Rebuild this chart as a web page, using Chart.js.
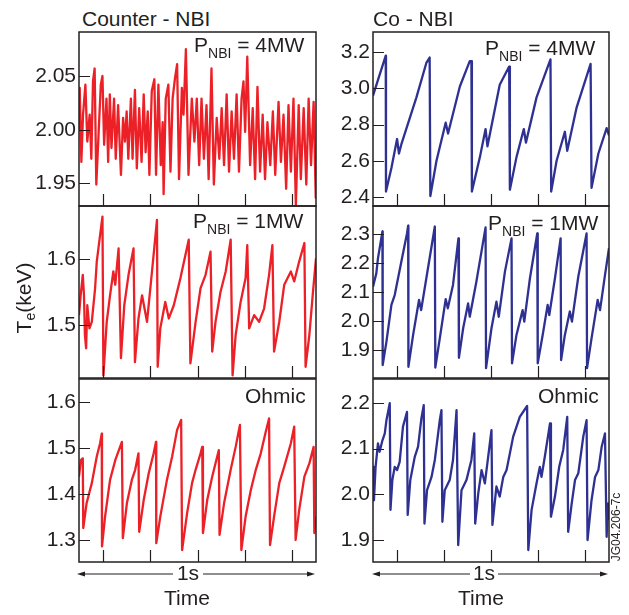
<!DOCTYPE html>
<html lang="en">
<head>
<meta charset="UTF-8">
<title>Te sawteeth</title>
<script src="https://cdn.jsdelivr.net/npm/chart.js"></script>
<style>
  body { margin: 0; background: #fff; }
  #wrap { position: relative; width: 629px; height: 615px; overflow: hidden; }
  canvas { position: absolute; }
  .t { position: absolute; font: 21px "Liberation Sans", Arial, sans-serif; line-height: 21px; color: #231f20; white-space: nowrap; }
  .t sub { font-size: 14px; vertical-align: baseline; position: relative; top: 6px; }
  .c { width: 100px; text-align: center; }
</style>
</head>
<body>
<div id="wrap">
  <canvas id="cTL" width="298" height="176" style="left:20px;top:31px"></canvas>
  <canvas id="cML" width="298" height="174" style="left:20px;top:205px"></canvas>
  <canvas id="cBL" width="298" height="185" style="left:20px;top:378px"></canvas>
  <canvas id="cTR" width="291" height="176" style="left:320px;top:31px"></canvas>
  <canvas id="cMR" width="291" height="174" style="left:320px;top:205px"></canvas>
  <canvas id="cBR" width="291" height="185" style="left:320px;top:378px"></canvas>

  <div class="t" style="left:82px;top:8px">Counter - NBI</div>
  <div class="t" style="left:373px;top:8px">Co - NBI</div>
  <div class="t" style="left:194px;top:34px">P<sub>NBI</sub> = 4MW</div>
  <div class="t" style="left:485px;top:37px">P<sub>NBI</sub> = 4MW</div>
  <div class="t" style="left:193px;top:210px">P<sub>NBI</sub> = 1MW</div>
  <div class="t" style="left:488px;top:212px">P<sub>NBI</sub> = 1MW</div>
  <div class="t" style="left:245px;top:385px">Ohmic</div>
  <div class="t" style="left:538px;top:385px">Ohmic</div>

  <div class="t c" style="left:-25px;top:285px;line-height:24px;transform:rotate(-90deg)">T<sub style="top:4px">e</sub>(keV)</div>

  <svg width="629" height="615" style="position:absolute;left:0;top:0">
    <g stroke="#231f20" stroke-width="1.2">
      <line x1="83" y1="574" x2="173" y2="574"/>
      <line x1="203" y1="574" x2="309" y2="574"/>
      <line x1="378" y1="574" x2="470" y2="574"/>
      <line x1="498" y1="574" x2="602" y2="574"/>
    </g>
    <g fill="#231f20">
      <polygon points="77,574 85,571.5 85,576.5"/>
      <polygon points="315,574 307,571.5 307,576.5"/>
      <polygon points="372,574 380,571.5 380,576.5"/>
      <polygon points="608,574 600,571.5 600,576.5"/>
    </g>
  </svg>
  <div class="t c" style="left:138px;top:562px">1s</div>
  <div class="t c" style="left:137px;top:587px">Time</div>
  <div class="t c" style="left:434px;top:562px">1s</div>
  <div class="t c" style="left:431px;top:587px">Time</div>
  <div class="t c" style="left:566px;top:520px;font-size:12px;line-height:14px;transform:rotate(-90deg)">JG04.206-7c</div>
</div>

<script>
// time axis, fraction of the 1 s window
const timeTicks = [0.1, 0.3, 0.5, 0.7, 0.9];

// Counter-NBI, 4 MW
const cntr4Time = [0, .003, .010, .017, .027, .035, .045, .052, .059, .066, .073, .083, .092, .099, .106, .116, .123, .130, .137, .148,
  .155, .165, .177, .186, .194, .201, .208, .219, .226, .236, .244, .254, .264, .273, .281, .290, .297, .307, .318, .325,
  .335, .345, .353, .357, .366, .377, .386, .395, .405, .414, .422, .434, .441, .451, .462, .476, .487, .497, .507, .517,
  .527, .538, .547, .559, .569, .581, .592, .602, .612, .623, .633, .644, .654, .665, .675, .686, .694, .701, .710, .722,
  .733, .743, .753, .764, .775, .785, .795, .807, .818, .828, .842, .852, .863, .874, .884, .894, .905, .915, .927, .936,
  .948, .959, .969, .979, .990, .999];
const cntr4Te = [2.001, 2.039, 1.970, 2.014, 2.042, 1.989, 2.014, 1.973, 2.045, 2.057, 1.949, 1.998, 2.042, 2.050, 1.986, 2.029, 1.970, 2.033, 1.983, 2.029,
  1.973, 2.023, 1.958, 2.011, 1.989, 2.017, 1.973, 2.029, 1.973, 2.037, 1.964, 2.020, 1.970, 2.033, 1.979, 2.017, 1.958, 2.036, 2.047, 1.958,
  2.042, 1.967, 2.007, 1.940, 2.029, 2.042, 1.961, 2.029, 2.048, 2.061, 1.954, 2.039, 2.014, 2.075, 1.958, 2.029, 1.989, 2.029, 1.967, 2.029,
  1.973, 2.023, 1.954, 2.057, 1.949, 2.011, 1.973, 2.020, 1.967, 2.033, 1.961, 2.017, 1.973, 2.033, 1.961, 2.029, 2.045, 1.998, 2.068, 1.967,
  2.020, 1.954, 2.040, 1.961, 2.014, 1.954, 2.007, 1.967, 2.017, 1.958, 2.026, 1.970, 2.014, 1.945, 2.023, 1.961, 2.029, 1.930, 2.023, 1.954,
  2.020, 1.949, 2.029, 1.967, 2.026, 1.936];
const cntr4Ticks = [1.95, 2.00, 2.05];

// Counter-NBI, 1 MW
const cntr1Time = [0, .007, .016, .021, .025, .030, .035, .044, .054, .068, .075, .089, .099, .103, .117, .131, .145, .153, .167, .177,
  .191, .209, .230, .236, .251, .266, .287, .308, .329, .332, .343, .364, .379, .400, .428, .463, .470, .492, .513, .534,
  .555, .562, .576, .597, .619, .640, .648, .661, .682, .703, .710, .718, .739, .760, .781, .802, .816, .823, .845, .866,
  .894, .908, .929, .951, .956, .972, .986, 1];
const cntr1Te = [1.515, 1.545, 1.576, 1.545, 1.485, 1.465, 1.530, 1.495, 1.505, 1.556, 1.596, 1.636, 1.664, 1.424, 1.505, 1.545, 1.581, 1.561, 1.616, 1.450,
  1.530, 1.576, 1.616, 1.444, 1.510, 1.545, 1.505, 1.581, 1.659, 1.437, 1.495, 1.535, 1.510, 1.530, 1.571, 1.629, 1.442, 1.505, 1.556, 1.576,
  1.611, 1.460, 1.505, 1.550, 1.581, 1.629, 1.424, 1.485, 1.535, 1.571, 1.621, 1.495, 1.515, 1.505, 1.525, 1.576, 1.621, 1.460, 1.505, 1.561,
  1.581, 1.566, 1.596, 1.624, 1.437, 1.485, 1.545, 1.601];
const cntr1Ticks = [1.5, 1.6];

// Counter-NBI, Ohmic
const cntrOhTime = [0, .008, .016, .018, .032, .054, .075, .089, .096, .097, .110, .131, .153, .181, .185, .202, .223, .237, .251, .254,
  .273, .294, .315, .325, .326, .343, .371, .393, .414, .431, .435, .456, .477, .492, .513, .520, .523, .541, .562, .590,
  .593, .612, .640, .661, .679, .685, .703, .725, .746, .767, .788, .802, .806, .823, .845, .866, .894, .908, .914, .929,
  .951, .972, .990, .993, 1];
const cntrOhTe = [1.438, 1.474, 1.478, 1.326, 1.380, 1.424, 1.482, 1.511, 1.532, 1.286, 1.351, 1.431, 1.474, 1.514, 1.304, 1.380, 1.431, 1.453, 1.489, 1.318,
  1.387, 1.445, 1.489, 1.514, 1.293, 1.351, 1.431, 1.482, 1.540, 1.562, 1.278, 1.358, 1.424, 1.453, 1.489, 1.503, 1.315, 1.387, 1.438, 1.496,
  1.311, 1.380, 1.453, 1.503, 1.551, 1.278, 1.351, 1.409, 1.453, 1.489, 1.536, 1.565, 1.289, 1.351, 1.424, 1.460, 1.511, 1.547, 1.300, 1.365,
  1.438, 1.467, 1.503, 1.315, 1.351];
const cntrOhTicks = [1.3, 1.4, 1.5, 1.6];

// Co-NBI, 4 MW
const co4Time = [0, .054, .055, .078, .102, .110, .120, .184, .226, .240, .243, .269, .308, .318, .368, .410, .417, .419, .453, .477,
  .485, .537, .577, .580, .608, .639, .648, .693, .752, .755, .778, .813, .823, .863, .922, .926, .955, .990, 1];
const co4Te = [2.96, 3.18, 2.43, 2.56, 2.72, 2.64, 2.69, 2.95, 3.14, 3.17, 2.405, 2.60, 2.81, 2.75, 3.01, 3.15, 3.15, 2.43, 2.62, 2.775,
  2.68, 3.02, 3.12, 2.44, 2.62, 2.775, 2.70, 2.95, 3.16, 2.43, 2.60, 2.76, 2.655, 2.895, 3.135, 2.45, 2.64, 2.78, 2.74];
const co4Ticks = [2.4, 2.6, 2.8, 3.0, 3.2];

// Co-NBI, 1 MW
const co1Time = [0, .014, .021, .040, .041, .057, .078, .092, .120, .144, .149, .150, .170, .195, .204, .226, .262, .264, .283, .308,
  .317, .339, .362, .364, .382, .403, .410, .438, .477, .479, .502, .523, .533, .559, .587, .589, .608, .634, .641, .665,
  .696, .698, .719, .740, .747, .771, .795, .797, .813, .834, .843, .870, .905, .907, .926, .952, .962, .983, 1];
const co1Te = [2.119, 2.165, 2.217, 2.310, 1.848, 1.929, 2.056, 2.090, 2.205, 2.303, 2.330, 1.842, 1.952, 2.073, 2.038, 2.148, 2.327, 1.839, 1.940, 2.076,
  2.044, 2.125, 2.286, 1.873, 1.975, 2.061, 2.015, 2.136, 2.324, 1.837, 1.975, 2.067, 2.015, 2.171, 2.286, 1.854, 1.952, 2.038, 1.998, 2.148,
  2.303, 1.854, 1.952, 2.056, 2.021, 2.148, 2.286, 1.865, 1.952, 2.033, 1.998, 2.154, 2.303, 1.837, 1.940, 2.073, 2.038, 2.159, 2.252];
const co1Ticks = [1.9, 2.0, 2.1, 2.2, 2.3];

// Co-NBI, Ohmic
const coOhTime = [0, .004, .011, .021, .028, .040, .050, .057, .071, .074, .082, .092, .102, .113, .127, .144, .147, .158, .177, .191,
  .205, .215, .218, .229, .248, .262, .283, .290, .294, .304, .325, .339, .354, .361, .375, .396, .417, .429, .433, .446,
  .460, .474, .488, .502, .506, .523, .537, .552, .566, .594, .622, .653, .658, .672, .693, .707, .714, .728, .750, .754,
  .771, .789, .806, .823, .827, .842, .856, .870, .891, .905, .909, .926, .941, .955, .969, .983, .990, .996, 1];
const coOhTe = [2.060, 1.987, 2.060, 2.111, 2.093, 2.118, 2.133, 2.162, 2.199, 1.966, 2.031, 2.060, 2.053, 2.071, 2.148, 2.180, 1.955, 2.031, 2.082, 2.104,
  2.166, 2.195, 1.936, 2.009, 2.038, 2.075, 2.162, 2.184, 1.940, 2.009, 2.031, 2.075, 2.184, 1.889, 2.009, 2.031, 2.075, 2.133, 1.936, 2.002,
  2.053, 2.024, 2.082, 2.140, 1.933, 2.017, 1.995, 2.038, 2.053, 2.126, 2.169, 2.193, 1.878, 1.966, 2.024, 2.060, 2.038, 2.082, 2.155, 1.951,
  1.995, 2.060, 2.097, 2.169, 1.918, 1.980, 2.031, 2.046, 2.126, 2.162, 1.900, 1.987, 2.038, 2.053, 2.104, 2.133, 1.907, 1.980, 1.944];
const coOhTicks = [1.9, 2.0, 2.1, 2.2];

const RED = '#ec2027';
const BLUE = '#2e3192';
const INK = '#231f20';

Chart.defaults.font.family = '"Liberation Sans", Arial, sans-serif';
Chart.defaults.font.size = 21;
Chart.defaults.color = INK;

// frame + inward tick marks
const framePlugin = {
  id: 'frame',
  afterDraw(chart) {
    const { ctx, chartArea: a, scales } = chart;
    ctx.save();
    ctx.strokeStyle = INK;
    ctx.lineWidth = 1.2;
    ctx.beginPath();
    scales.y.ticks.forEach(t => {
      const py = Math.round(scales.y.getPixelForValue(t.value)) + 0.5;
      ctx.moveTo(a.left, py);
      ctx.lineTo(a.left + 11, py);
    });
    timeTicks.forEach(v => {
      const px = Math.round(scales.x.getPixelForValue(v)) + 0.5;
      ctx.moveTo(px, a.bottom);
      ctx.lineTo(px, a.bottom - 12);
    });
    ctx.stroke();
    ctx.lineWidth = 1.5;
    ctx.strokeRect(a.left, a.top, a.right - a.left, a.bottom - a.top);
    ctx.restore();
  }
};

function panel(id, time, te, color, yMin, yMax, ticks, decimals, axisW) {
  new Chart(document.getElementById(id), {
    type: 'line',
    data: {
      datasets: [{
        data: time.map((t, i) => ({ x: t, y: te[i] })),
        borderColor: color,
        borderWidth: 2.3,
        borderJoinStyle: 'round',
        pointRadius: 0,
        tension: 0
      }]
    },
    options: {
      responsive: false,
      animation: false,
      layout: { padding: { top: 1, bottom: 1, left: 0, right: 2 } },
      plugins: { legend: { display: false }, tooltip: { enabled: false } },
      scales: {
        x: {
          type: 'linear', min: 0, max: 1,
          ticks: { display: false },
          grid: { display: false, drawTicks: false },
          border: { display: false },
          afterFit: s => { s.height = 0; s.paddingLeft = 0; s.paddingRight = 0; }
        },
        y: {
          min: yMin, max: yMax,
          afterBuildTicks: s => { s.ticks = ticks.map(v => ({ value: v })); },
          ticks: { padding: 3, callback: v => v.toFixed(decimals) },
          grid: { display: false, drawTicks: false },
          border: { display: false },
          afterFit: s => { s.width = axisW; s.paddingTop = 0; s.paddingBottom = 0; }
        }
      }
    },
    plugins: [framePlugin]
  });
}

panel('cTL', cntr4Time, cntr4Te, RED, 1.929, 2.091, cntr4Ticks, 2, 59);
panel('cML', cntr1Time, cntr1Te, RED, 1.420, 1.680, cntr1Ticks, 1, 59);
panel('cBL', cntrOhTime, cntrOhTe, RED, 1.252, 1.651, cntrOhTicks, 1, 59);
panel('cTR', co4Time, co4Te, BLUE, 2.350, 3.311, co4Ticks, 1, 53);
panel('cMR', co1Time, co1Te, BLUE, 1.803, 2.398, co1Ticks, 1, 53);
panel('cBR', coOhTime, coOhTe, BLUE, 1.852, 2.252, coOhTicks, 1, 53);
</script>
</body>
</html>
